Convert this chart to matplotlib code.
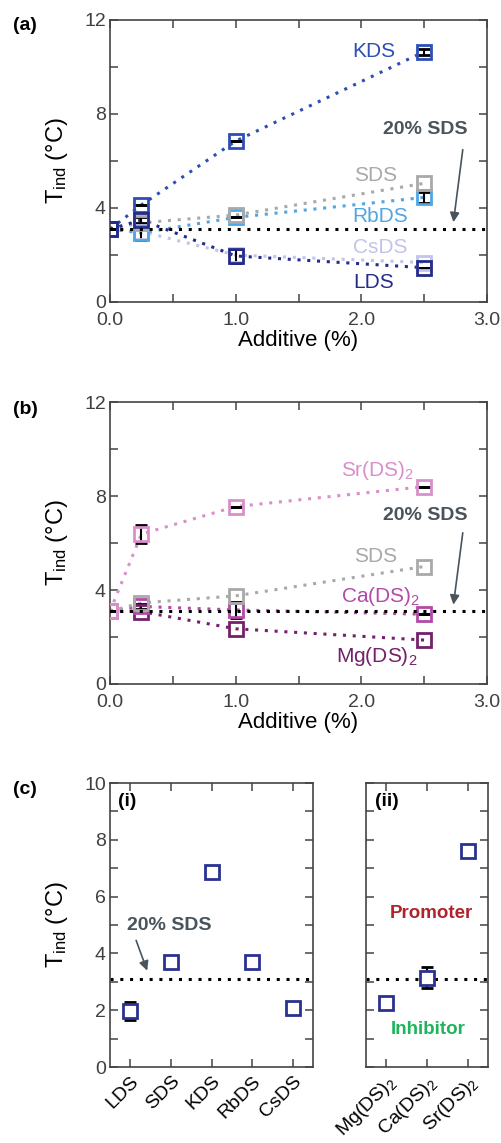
import matplotlib
matplotlib.use("Agg")
import matplotlib.pyplot as plt
from matplotlib.ticker import MultipleLocator, FixedLocator, FormatStrFormatter

plt.rcParams['font.family'] = ['Liberation Sans', 'DejaVu Sans']
plt.rcParams['mathtext.default'] = 'regular'

# ---------------- data ----------------
additive = [0.0, 0.25, 1.0, 2.5]
baseline = 3.1  # 20% SDS

# panel (a)
kds = [3.1, 4.13, 6.85, 10.65]
sds_a = [3.1, 3.37, 3.7, 5.05]
rbds = [3.1, 2.94, 3.6, 4.45]
csds = [3.1, 3.0, 2.0, 1.68]
lds = [3.1, 3.49, 1.96, 1.46]
kds_err = [0, 0.0, 0.0, 0.12]
lds_err = [0, 0.12, 0.28, 0.0]
rbds_err = [0, 0.3, 0.0, 0.22]

# panel (b)
sr = [3.1, 6.38, 7.55, 8.4]
sds_b = [3.1, 3.45, 3.75, 5.0]
ca = [3.1, 3.3, 3.15, 2.97]
mg = [3.1, 3.08, 2.35, 1.87]
sr_err = [0, 0.4, 0.0, 0.0]
ca_err = [0, 0.12, 0.35, 0.0]

# panel (c)
mono_labels = ['LDS', 'SDS', 'KDS', 'RbDS', 'CsDS']
mono_vals = [1.97, 3.7, 6.85, 3.7, 2.08]
mono_err = [0.33, 0.0, 0.0, 0.0, 0.0]
di_labels = ['Mg(DS)$_2$', 'Ca(DS)$_2$', 'Sr(DS)$_2$']
di_vals = [2.27, 3.15, 7.6]
di_err = [0.0, 0.38, 0.0]

# ---------------- style ----------------
C_KDS = '#2d4fb4'
C_LDS = '#232c8c'
C_SDS = '#a9a9a9'
C_RB = '#4ea6e2'
C_CS = '#c3c3ea'
C_SR = '#d98fcb'
C_CA = '#b24aa8'
C_MG = '#74206a'
C_TXT = '#4a545c'
TICK_C = '#404040'
DOT = (0, (1, 2.2))

W, H = 501, 1143
fig = plt.figure(figsize=(W / 100, H / 100), dpi=100)


def ax_at(l, r, t, b):
    return fig.add_axes([l / W, 1 - b / H, (r - l) / W, (b - t) / H])


def style_axes(ax):
    ax.tick_params(which='both', direction='in', top=True, right=True,
                   labelsize=14, labelcolor=TICK_C, color='#444444', width=1.1)
    ax.tick_params(which='major', length=6)
    ax.tick_params(which='minor', length=6)
    ax.tick_params(axis='x', pad=7)
    ax.tick_params(axis='y', pad=3)
    for s in ax.spines.values():
        s.set_color('#444444')
        s.set_linewidth(1.2)


def series(ax, y, c, err=None, ms=10):
    ax.plot(additive, y, linestyle=DOT, color=c, lw=2.2, zorder=2)
    if err is not None:
        ax.errorbar(additive, y, yerr=err, fmt='none', ecolor='black',
                    elinewidth=1.5, capsize=4, capthick=2, zorder=3)
    ax.plot(additive, y, linestyle='none', marker='s', ms=ms, mfc='none',
            mec=c, mew=2, zorder=4)


def additive_axes(ax):
    ax.set_xlim(0, 3)
    ax.set_ylim(0, 12)
    ax.xaxis.set_major_locator(MultipleLocator(1.0))
    ax.xaxis.set_minor_locator(MultipleLocator(0.5))
    ax.yaxis.set_major_locator(MultipleLocator(4))
    ax.yaxis.set_minor_locator(MultipleLocator(2))
    ax.xaxis.set_major_formatter(FormatStrFormatter('%.1f'))
    ax.set_xlabel('Additive (%)', fontsize=16, labelpad=1)
    ax.set_ylabel('T$_{ind}$ (°C)', fontsize=17, labelpad=10)
    ax.axhline(baseline, linestyle=DOT, color='black', lw=2.2, zorder=5)
    style_axes(ax)


def sds_arrow(ax, txt_xy, start, end):
    ax.text(*txt_xy, '20% SDS', color=C_TXT, fontsize=14, fontweight='bold',
            ha='center', va='center')
    ax.annotate('', xy=end, xytext=start,
                arrowprops=dict(arrowstyle='-|>', color=C_TXT, lw=1.2,
                                mutation_scale=14))


# ---------------- panel (a) ----------------
axa = ax_at(110, 487, 20, 302)
additive_axes(axa)
series(axa, csds, C_CS)
series(axa, rbds, C_RB, rbds_err)
series(axa, sds_a, C_SDS)
series(axa, kds, C_KDS, kds_err)
series(axa, lds, C_LDS, lds_err)
axa.text(2.27, 10.65, 'KDS', color=C_KDS, fontsize=15, ha='right', va='center')
axa.text(2.11, 5.4, 'SDS', color=C_SDS, fontsize=15, ha='center', va='center')
axa.text(2.15, 3.63, 'RbDS', color=C_RB, fontsize=15, ha='center', va='center')
axa.text(2.15, 2.34, 'CsDS', color=C_CS, fontsize=15, ha='center', va='center')
axa.text(2.1, 0.82, 'LDS', color=C_LDS, fontsize=15, ha='center', va='center')
sds_arrow(axa, (2.51, 7.32), (2.81, 6.6), (2.73, 3.28))
fig.text(13 / W, 1 - 25 / H, '(a)', fontsize=14, fontweight='bold', va='center')

# ---------------- panel (b) ----------------
axb = ax_at(110, 487, 402, 684)
additive_axes(axb)
series(axb, mg, C_MG)
series(axb, ca, C_CA, ca_err)
series(axb, sds_b, C_SDS)
series(axb, sr, C_SR, sr_err)
axb.text(2.13, 9.1, 'Sr(DS)$_2$', color=C_SR, fontsize=15, ha='center', va='center')
axb.text(2.11, 5.42, 'SDS', color=C_SDS, fontsize=15, ha='center', va='center')
axb.text(2.15, 3.74, 'Ca(DS)$_2$', color=C_CA, fontsize=15, ha='center', va='center')
axb.text(2.12, 1.16, 'Mg(DS)$_2$', color=C_MG, fontsize=15, ha='center', va='center')
sds_arrow(axb, (2.51, 7.19), (2.81, 6.55), (2.73, 3.26))
fig.text(13 / W, 1 - 410 / H, '(b)', fontsize=14, fontweight='bold', va='center')

# ---------------- panel (c) ----------------
C_C = '#2a3190'
axc1 = ax_at(110, 313, 783, 1067)
axc2 = ax_at(366, 488, 783, 1067)
for ax, labels, vals, err in ((axc1, mono_labels, mono_vals, mono_err),
                              (axc2, di_labels, di_vals, di_err)):
    xs = list(range(len(labels)))
    ax.axhline(baseline, linestyle=DOT, color='black', lw=2.2, zorder=1)
    ax.errorbar(xs, vals, yerr=err, fmt='none', ecolor='black',
                elinewidth=1.5, capsize=4, capthick=2, zorder=2)
    ax.plot(xs, vals, linestyle='none', marker='s', ms=9.5, mfc='white',
            mec=C_C, mew=2, zorder=3)
    ax.set_xlim(-0.5, len(labels) - 0.5)
    ax.set_ylim(0, 10)
    ax.xaxis.set_major_locator(FixedLocator(xs))
    ax.set_xticklabels(labels, rotation=45, ha='right', rotation_mode='anchor',
                       fontsize=14.5)
    ax.yaxis.set_major_locator(MultipleLocator(2))
    ax.yaxis.set_minor_locator(MultipleLocator(1))
    style_axes(ax)
    ax.tick_params(axis='x', pad=4)
    for lab in ax.get_xticklabels():
        lab.set_color('black')

axc2.set_yticklabels([])
axc1.set_ylabel('T$_{ind}$ (°C)', fontsize=17, labelpad=10)
axc1.text(0.04, 0.965, '(i)', transform=axc1.transAxes, fontsize=14,
          fontweight='bold', ha='left', va='top')
axc2.text(0.07, 0.965, '(ii)', transform=axc2.transAxes, fontsize=14,
          fontweight='bold', ha='left', va='top')
axc1.text(0.95, 4.98, '20% SDS', color=C_TXT, fontsize=14, fontweight='bold',
          ha='center', va='center')
axc1.annotate('', xy=(0.44, 3.3), xytext=(0.12, 4.55),
              arrowprops=dict(arrowstyle='-|>', color=C_TXT, lw=1.2,
                              mutation_scale=14))
axc2.text(1.1, 5.42, 'Promoter', color='#b0222c', fontsize=13.5,
          fontweight='bold', ha='center', va='center')
axc2.text(1.02, 1.33, 'Inhibitor', color='#1fb45c', fontsize=13.5,
          fontweight='bold', ha='center', va='center')
fig.text(13 / W, 1 - 790 / H, '(c)', fontsize=14, fontweight='bold', va='center')

fig.savefig('out.png', dpi=100)
